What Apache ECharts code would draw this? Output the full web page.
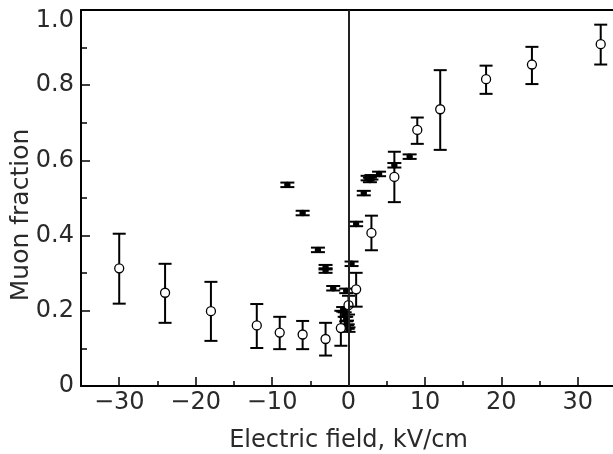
<!DOCTYPE html>
<html>
<head>
<meta charset="utf-8">
<script src="https://cdn.jsdelivr.net/npm/echarts@6/dist/echarts.min.js"></script>
<style>
  html, body { margin: 0; padding: 0; background: #fff; }
  #chart { width: 613px; height: 454px; }
</style>
</head>
<body>
<div id="chart"></div>
<script>
// open circles: field, fraction, lower, upper
var openX = [-30, -24, -18, -12, -9, -6, -3, -1, 0, 1, 3, 6, 9, 12, 18, 24, 33]
var openY = [0.313, 0.248, 0.199, 0.161, 0.142, 0.137, 0.125, 0.154, 0.215, 0.257, 0.407, 0.556, 0.681, 0.736, 0.816, 0.855, 0.909]
var openLo = [0.219, 0.168, 0.120, 0.101, 0.098, 0.098, 0.081, 0.107, 0.190, 0.211, 0.361, 0.489, 0.644, 0.628, 0.777, 0.803, 0.855]
var openHi = [0.405, 0.325, 0.277, 0.218, 0.184, 0.173, 0.168, 0.200, 0.240, 0.301, 0.453, 0.623, 0.714, 0.840, 0.852, 0.902, 0.961]

// filled points (small errors)
var fillX = [-8, -6, -4, -3, -3, -2, -0.3, 0.4, -0.7, -0.5, -0.3, -0.2, -0.1, 0, 1, 2, 2.5, 2.8, 3, 4, 6, 8]
var fillY = [0.535, 0.460, 0.362, 0.316, 0.307, 0.260, 0.253, 0.325, 0.204, 0.190, 0.178, 0.168, 0.158, 0.150, 0.431, 0.513, 0.553, 0.548, 0.555, 0.564, 0.587, 0.610]
var fillErr = 0.006

var xMajor = [-30, -20, -10, 0, 10, 20, 30]
var xMinor = [-25, -15, -5, 5, 15, 25]

var openData = openX.map(function (x, i) { return [x, openY[i], openLo[i], openHi[i]] })
var fillData = fillX.map(function (x, i) { return [x, fillY[i], fillY[i] - fillErr, fillY[i] + fillErr] })

var txt = '#2a2a2a'
var font = 'DejaVu Sans'

function errItem (capHalf, dot) {
  return function (params, api) {
    var c = api.coord([api.value(0), api.value(1)])
    var lo = api.coord([api.value(0), api.value(2)])
    var hi = api.coord([api.value(0), api.value(3)])
    var st = { stroke: '#000', lineWidth: 2 }
    var kids = [
      { type: 'line', shape: { x1: c[0], y1: lo[1], x2: c[0], y2: hi[1] }, style: st },
      { type: 'line', shape: { x1: c[0] - capHalf, y1: lo[1], x2: c[0] + capHalf, y2: lo[1] }, style: st },
      { type: 'line', shape: { x1: c[0] - capHalf, y1: hi[1], x2: c[0] + capHalf, y2: hi[1] }, style: st }
    ]
    if (dot) {
      kids.push({ type: 'circle', shape: { cx: c[0], cy: c[1], r: 3.2 }, style: { fill: '#000' } })
    } else {
      kids.push({ type: 'circle', shape: { cx: c[0], cy: c[1], r: 4.5 }, style: { fill: '#fff', stroke: '#000', lineWidth: 1.3 } })
    }
    return { type: 'group', children: kids }
  }
}

var chart = echarts.init(document.getElementById('chart'), null, { renderer: 'canvas' })
chart.setOption({
  animation: false,
  textStyle: { fontFamily: font },
  grid: { left: 81, top: 10, width: 535, height: 376, outerBoundsMode: 'none', containLabel: false },
  xAxis: [{
    type: 'value',
    min: -35,
    max: 35,
    interval: 5,
    name: 'Electric field, kV/cm',
    nameLocation: 'middle',
    nameGap: 43,
    nameTextStyle: { fontSize: 24, color: txt, fontFamily: font },
    axisLine: { onZero: false, lineStyle: { color: '#000', width: 2 } },
    axisTick: { inside: true, length: 9, customValues: xMajor, lineStyle: { color: '#000', width: 1.5 } },
    axisLabel: {
      fontSize: 24, color: txt, margin: 5, fontFamily: font,
      customValues: xMajor,
      formatter: function (v) { return v < 0 ? '\u2212' + (-v) : String(v) }
    },
    splitLine: { show: false }
  }, {
    type: 'value',
    position: 'bottom',
    gridIndex: 0,
    min: -35,
    max: 35,
    interval: 5,
    axisLine: { show: false, onZero: false },
    axisTick: { inside: true, length: 5, customValues: xMinor, lineStyle: { color: '#000', width: 1.5 } },
    axisLabel: { show: false },
    splitLine: { show: false }
  }, {
    type: 'value',
    position: 'top',
    min: -35,
    max: 35,
    axisLine: { onZero: false, lineStyle: { color: '#000', width: 2 } },
    axisTick: { show: false },
    axisLabel: { show: false },
    splitLine: { show: false }
  }],
  yAxis: {
    type: 'value',
    min: 0,
    max: 1,
    interval: 0.2,
    name: 'Muon fraction',
    nameLocation: 'middle',
    nameGap: 47,
    nameMoveOverlap: false,
    nameTextStyle: { fontSize: 25, color: txt, fontFamily: font, padding: [0, 34, 0, 0] },
    axisLine: { onZero: false, lineStyle: { color: '#000', width: 2 } },
    axisTick: { inside: true, length: 9, lineStyle: { color: '#000', width: 1.5 } },
    minorTick: { show: true, splitNumber: 2, length: 6, lineStyle: { color: '#000', width: 1.5 } },
    axisLabel: {
      fontSize: 24, color: txt, margin: 7, fontFamily: font,
      formatter: function (v) {
        var k = Math.round(v * 10)
        if (k === 0) return '{z|0}'
        if (k === 10) return '{t|1.0}'
        return v.toFixed(1)
      },
      rich: {
        z: { fontSize: 24, color: txt, verticalAlign: 'bottom', lineHeight: 24 },
        t: { fontSize: 24, color: txt, padding: [22, 0, 0, 0] }
      }
    },
    splitLine: { show: false }
  },
  series: [{
    type: 'custom',
    name: 'fill',
    renderItem: errItem(7, true),
    encode: { x: 0, y: [1, 2, 3] },
    data: fillData,
    z: 3
  }, {
    type: 'custom',
    name: 'open',
    renderItem: errItem(6.5, false),
    encode: { x: 0, y: [1, 2, 3] },
    data: openData,
    z: 4,
    markLine: {
      silent: true,
      symbol: 'none',
      label: { show: false },
      lineStyle: { color: '#222', width: 2, type: 'solid' },
      data: [{ xAxis: 0 }]
    }
  }]
})
</script>
</body>
</html>
